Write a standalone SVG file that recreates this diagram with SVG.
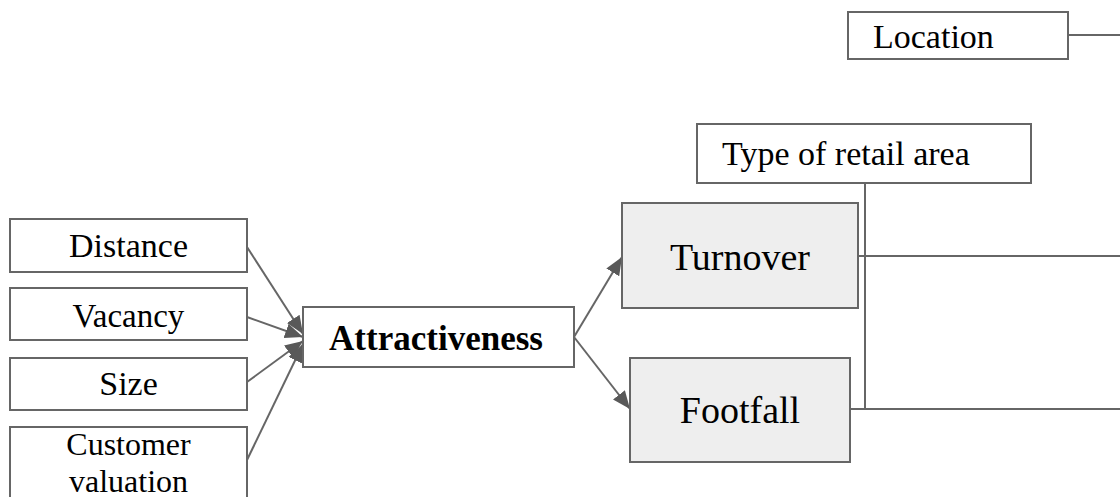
<svg xmlns="http://www.w3.org/2000/svg" width="1120" height="497" viewBox="0 0 1120 497">
<style>
.box{fill:#ffffff;stroke:#666666;stroke-width:2}
.grey{fill:#eeeeee;stroke:#666666;stroke-width:2}
.t{font-family:"Liberation Serif","Times New Roman",serif;fill:#000000}
.c{text-anchor:middle}
.ln{fill:none;stroke:#666666;stroke-width:2}
.arr{fill:none;stroke:#666666;stroke-width:2;marker-end:url(#ah)}
</style>
<defs>
<marker id="ah" markerUnits="userSpaceOnUse" markerWidth="20" markerHeight="16" refX="18" refY="7.5" orient="auto">
<path d="M0,0 L18,7.5 L0,15 z" fill="#595959"/>
</marker>
</defs>
<rect width="1120" height="497" fill="#ffffff"/>
<g id="connectors">
<line class="arr" x1="247" y1="247" x2="303" y2="334"/>
<line class="arr" x1="247" y1="317" x2="303" y2="337"/>
<line class="arr" x1="247" y1="382" x2="303" y2="341"/>
<line class="arr" x1="247" y1="460" x2="303" y2="344"/>
<line class="arr" x1="574" y1="337" x2="622" y2="257"/>
<line class="arr" x1="574" y1="337" x2="630" y2="409"/>
<line class="ln" x1="1068" y1="35" x2="1120" y2="35"/>
<line class="ln" x1="865" y1="183" x2="865" y2="409"/>
<line class="ln" x1="858" y1="256" x2="1120" y2="256"/>
<line class="ln" x1="850" y1="409" x2="1120" y2="409"/>
</g>
<g id="location">
<rect class="box" x="848" y="12" width="220" height="47"/>
<text class="t" x="873" y="48" font-size="34">Location</text>
</g>
<g id="type-of-retail-area">
<rect class="box" x="697" y="124" width="334" height="59"/>
<text class="t" x="722" y="165" font-size="34">Type of retail area</text>
</g>
<g id="turnover">
<rect class="grey" x="622" y="203" width="236" height="105"/>
<text class="t c" x="740" y="270" font-size="38">Turnover</text>
</g>
<g id="footfall">
<rect class="grey" x="630" y="358" width="220" height="104"/>
<text class="t c" x="740" y="423" font-size="38">Footfall</text>
</g>
<g id="attractiveness">
<rect class="box" x="303" y="307" width="271" height="60"/>
<text class="t c" x="436" y="350" font-size="35" font-weight="bold">Attractiveness</text>
</g>
<g id="distance">
<rect class="box" x="10" y="219" width="237" height="53"/>
<text class="t c" x="128.5" y="257" font-size="34">Distance</text>
</g>
<g id="vacancy">
<rect class="box" x="10" y="288" width="237" height="52"/>
<text class="t c" x="128.5" y="327" font-size="33">Vacancy</text>
</g>
<g id="size">
<rect class="box" x="10" y="358" width="237" height="52"/>
<text class="t c" x="128.5" y="395" font-size="34">Size</text>
</g>
<g id="customer-valuation">
<rect class="box" x="10" y="427" width="237" height="80"/>
<text class="t c" x="128.5" y="455" font-size="32">Customer</text>
<text class="t c" x="128.5" y="492" font-size="32">valuation</text>
</g>
</svg>
